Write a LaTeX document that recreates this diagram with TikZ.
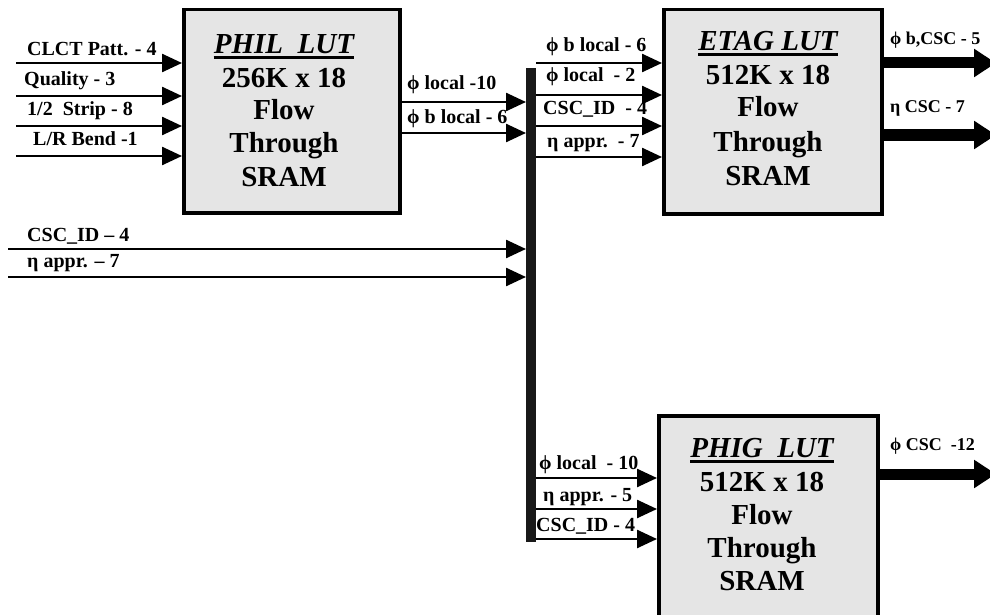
\documentclass[tikz,border=0pt]{standalone}
\usepackage{fontspec}
\setmainfont{Liberation Serif}
\usetikzlibrary{arrows.meta}
\tikzset{
  lut/.style={draw, line width=3.5pt, fill=black!10, inner sep=0pt, anchor=north west},
  boxtxt/.style={font=\fontsize{29}{33}\selectfont\bfseries, inner sep=0pt, anchor=base},
  boxttl/.style={font=\fontsize{29}{33}\selectfont\bfseries\itshape, inner sep=0pt, anchor=base},
  uline/.style={line width=3pt},
  lbl/.style={font=\fontsize{20}{24}\selectfont\bfseries, inner sep=0pt, anchor=base west},
  olbl/.style={font=\fontsize{18}{22}\selectfont\bfseries, inner sep=0pt, anchor=base west},
  sig/.style={line width=2.5pt, -{Triangle[length=20pt,width=18pt]}},
  bigsig/.style={line width=11pt, -{Triangle[length=22pt,width=27pt]}},
  busbar/.style={fill=black!90, inner sep=0pt, anchor=north west}
}
\begin{document}
\begin{tikzpicture}[x=1pt,y=-1pt]
\useasboundingbox (0,0) rectangle (990,615);
\clip (0,0) rectangle (990,615);
% boxes
\node[lut, minimum width=216pt, minimum height=203pt] (phil) at (182,8) {};
\node[lut, minimum width=218pt, minimum height=204pt] (etag) at (662,8) {};
\node[lut, minimum width=219pt, minimum height=240pt] (phig) at (657,414) {};
% bus
\node[busbar, minimum width=10pt, minimum height=474pt] (bus) at (526,68) {};
% box texts
\node[boxttl] (philT) at (284,54) {PHIL\ \ LUT};
\draw[uline] ([yshift=-4pt]philT.base west) -- ([yshift=-4pt]philT.base east);
\foreach \t/\y [count=\i] in {256K x 18/88, Flow/120, Through/153, SRAM/186}
  \node[boxtxt] (philL\i) at (284,\y) {\t};
\node[boxttl] (etagT) at (768,51) {ETAG LUT};
\draw[uline] ([yshift=-4pt]etagT.base west) -- ([yshift=-4pt]etagT.base east);
\foreach \t/\y [count=\i] in {512K x 18/85, Flow/117, Through/151, SRAM/185}
  \node[boxtxt] (etagL\i) at (768,\y) {\t};
\node[boxttl] (phigT) at (762,457) {PHIG\ \ LUT};
\draw[uline] ([yshift=-4pt]phigT.base west) -- ([yshift=-4pt]phigT.base east);
\foreach \t/\y [count=\i] in {512K x 18/491, Flow/524, Through/557, SRAM/590}
  \node[boxtxt] (phigL\i) at (762,\y) {\t};
% PHIL inputs
\coordinate (pi1) at (16,63);
\coordinate (pi2) at (16,96);
\coordinate (pi3) at (16,126);
\coordinate (pi4) at (16,156);
\foreach \c in {pi1,pi2,pi3,pi4} \draw[sig] (\c) -- (\c -| phil.west);
\node[lbl] (lp1) at (27,56) {CLCT Patt. - 4};
\node[lbl] (lp2) at (24,86) {Quality - 3};
\node[lbl] (lp3) at (27,116) {1/2\ \ Strip - 8};
\node[lbl] (lp4) at (33,146) {L/R Bend -1};
% PHIL outputs to bus
\draw[sig] (phil.east |- 0,102) -- (bus.west |- 0,102);
\draw[sig] (phil.east |- 0,133) -- (bus.west |- 0,133);
\node[lbl] (lo1) at (407,90) {ϕ local -10};
\node[lbl] (lo2) at (407,124) {ϕ b local - 6};
% long inputs to bus
\coordinate (ci1) at (8,249);
\coordinate (ci2) at (8,277);
\draw[sig] (ci1) -- (ci1 -| bus.west);
\draw[sig] (ci2) -- (ci2 -| bus.west);
\node[lbl] (lc1) at (27,241) {CSC\_ID – 4};
\node[lbl] (lc2) at (27,267) {η appr. – 7};
% bus to ETAG
\foreach \y in {63,95,126,157}
  \draw[sig] (bus.east |- 0,\y) -- (etag.west |- 0,\y);
\node[lbl] (le1) at (546,52) {ϕ b local - 6};
\node[lbl] (le2) at (546,82) {ϕ local\ \ - 2};
\node[lbl] (le3) at (543,115) {CSC\_ID\ \ - 4};
\node[lbl] (le4) at (547,147) {η appr.\ \ - 7};
% bus to PHIG
\foreach \y in {478,509,539}
  \draw[sig] (bus.east |- 0,\y) -- (phig.west |- 0,\y);
\node[lbl] (lg1) at (539,469) {ϕ local\ \ - 10};
\node[lbl] (lg2) at (543,501) {η appr. - 5};
\node[lbl] (lg3) at (536,531) {CSC\_ID - 4};
% outputs
\coordinate (eo1) at (996,63);
\coordinate (eo2) at (996,135);
\coordinate (go1) at (996,474);
\draw[bigsig] (etag.east |- eo1) -- (eo1);
\draw[bigsig] (etag.east |- eo2) -- (eo2);
\draw[bigsig] (phig.east |- go1) -- (go1);
\node[olbl] (oe1) at (890,45) {ϕ b,CSC - 5};
\node[olbl] (oe2) at (890,113) {η CSC - 7};
\node[olbl] (og1) at (890,450) {ϕ CSC\ \ -12};
\end{tikzpicture}
\end{document}
